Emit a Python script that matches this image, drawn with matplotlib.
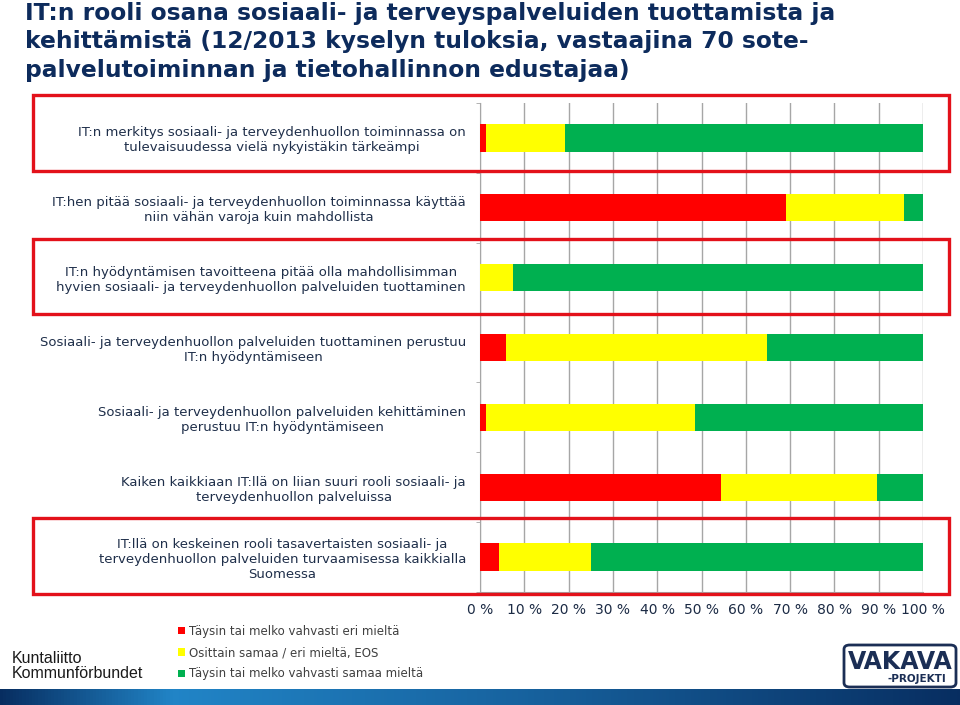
import numpy as np
import matplotlib
matplotlib.use("Agg")
from matplotlib import pyplot as plt
from matplotlib.patches import Rectangle, FancyBboxPatch

TITLE = ("IT:n rooli osana sosiaali- ja terveyspalveluiden tuottamista ja\n"
         "kehittämistä (12/2013 kyselyn tuloksia, vastaajina 70 sote-\n"
         "palvelutoiminnan ja tietohallinnon edustajaa)")

CATEGORIES = [
    "IT:n merkitys sosiaali- ja terveydenhuollon toiminnassa on\ntulevaisuudessa vielä nykyistäkin tärkeämpi",
    "IT:hen pitää sosiaali- ja terveydenhuollon toiminnassa käyttää\nniin vähän varoja kuin mahdollista",
    "IT:n hyödyntämisen tavoitteena pitää olla mahdollisimman\nhyvien sosiaali- ja terveydenhuollon palveluiden tuottaminen",
    "Sosiaali- ja terveydenhuollon palveluiden tuottaminen perustuu\nIT:n hyödyntämiseen",
    "Sosiaali- ja terveydenhuollon palveluiden kehittäminen\nperustuu IT:n hyödyntämiseen",
    "Kaiken kaikkiaan IT:llä on liian suuri rooli sosiaali- ja\nterveydenhuollon palveluissa",
    "IT:llä on keskeinen rooli tasavertaisten sosiaali- ja\nterveydenhuollon palveluiden turvaamisessa kaikkialla\nSuomessa",
]

# percentages per statement
disagree = [1.4, 69.1, 0.0, 5.9, 1.4, 54.3, 4.4]
neutral = [17.7, 26.5, 7.4, 58.8, 47.1, 35.4, 20.6]
agree = [80.9, 4.4, 92.6, 35.3, 51.5, 10.3, 75.0]

SERIES_LABELS = ["Täysin tai melko vahvasti eri mieltä",
                 "Osittain samaa / eri mieltä, EOS",
                 "Täysin tai melko vahvasti samaa mieltä"]
COLORS = ["#ff0000", "#ffff00", "#00b050"]
HIGHLIGHT = [0, 2, 6]  # statements with red frame

XTICKS = list(range(0, 101, 10))
XTICK_LABELS = ["{} %".format(t) for t in XTICKS]

W, H = 960, 705
fig = plt.figure(figsize=(9.6, 7.05), dpi=100)
fig.patch.set_facecolor("white")

# plot area in pixels
left, right, top, bottom = 480, 923, 103, 592
ax = fig.add_axes([left / W, 1 - bottom / H, (right - left) / W, (bottom - top) / H])

n = len(CATEGORIES)
y = np.arange(n)
d = np.array(disagree)
nt = np.array(neutral)
a = np.array(agree)

bars = []
bars.append(ax.barh(y, d, height=0.39, color=COLORS[0], label=SERIES_LABELS[0], zorder=3))
bars.append(ax.barh(y, nt, left=d, height=0.39, color=COLORS[1], label=SERIES_LABELS[1], zorder=3))
bars.append(ax.barh(y, a, left=d + nt, height=0.39, color=COLORS[2], label=SERIES_LABELS[2], zorder=3))

ax.set_xlim(0, 100)
ax.set_ylim(n - 0.5, -0.5)
ax.set_xticks(XTICKS, XTICK_LABELS)
ax.set_yticks(y, CATEGORIES)
ax.set_yticks(np.arange(-0.5, n, 1), minor=True)
ax.grid(axis="x", color="#a6a6a6", linewidth=1.0, zorder=0)

for s in ["top", "right"]:
    ax.spines[s].set_visible(False)
ax.spines["left"].set_color("#a6a6a6")
ax.spines["bottom"].set_color("#a6a6a6")

ax.tick_params(axis="x", length=0, pad=8, labelsize=10, labelcolor="#1c2b45")
ax.tick_params(axis="y", which="major", length=0, pad=10, labelsize=9.5, labelcolor="#1f2f4a")
ax.tick_params(axis="y", which="minor", length=3, color="#a6a6a6")
for lab in ax.get_yticklabels():
    lab.set_multialignment("center")

# red frames around highlighted statements
frames = {0: (95, 171), 2: (239, 314), 6: (518, 594)}
for i in HIGHLIGHT:
    y0, y1 = frames[i]
    fig.patches.append(Rectangle((33 / W, 1 - y1 / H), (949 - 33) / W, (y1 - y0) / H,
                                 transform=fig.transFigure, fill=False,
                                 edgecolor="#e3111a", linewidth=2.4, zorder=5))

# title
fig.text(25 / W, 1 - 2 / H, TITLE, ha="left", va="top", fontsize=16.8,
         fontweight="bold", color="#0d2b5c", linespacing=1.3)

# legend
fig.legend(handles=bars, labels=SERIES_LABELS, loc="upper left",
           bbox_to_anchor=(172 / W, 1 - 619 / H), frameon=False,
           fontsize=8.5, labelcolor="#404040", handlelength=0.6,
           handleheight=0.6, handletextpad=0.3, labelspacing=0.7,
           borderpad=0)

# bottom band with gradient
band = fig.add_axes([0, 0, 1, 16 / H])
xg = np.linspace(0, 1, 300)
g = np.interp(xg, [0, 0.18, 0.55, 1], [0.0, 1.0, 0.6, 0.0])
c0 = np.array([0.03, 0.18, 0.38])
c1 = np.array([0.13, 0.52, 0.78])
img = c0[None, :] * (1 - g[:, None]) + c1[None, :] * g[:, None]
band.imshow(img[None, :, :], aspect="auto", extent=[0, 1, 0, 1])
band.set_axis_off()

# logos as text
fig.text(12 / W, 1 - 651 / H, "Kuntaliitto\nKommunförbundet", ha="left", va="top",
         fontsize=11.5, family="Liberation Sans", color="#1a1a1a", linespacing=1.0)
fig.patches.append(FancyBboxPatch((844 / W, 1 - 687 / H), 112 / W, 42 / H,
                                  boxstyle="round,pad=0,rounding_size=0.006",
                                  transform=fig.transFigure, fill=False,
                                  edgecolor="#1b2e55", linewidth=2.0))
fig.text(900 / W, 1 - 662 / H, "VAKAVA", ha="center", va="center", fontsize=17,
         fontweight="bold", color="#1b2e55")
fig.text(946 / W, 1 - 679 / H, "-PROJEKTI", ha="right", va="center", fontsize=7.5,
         fontweight="bold", color="#1b2e55")

plt.savefig("out.png", dpi=100)
